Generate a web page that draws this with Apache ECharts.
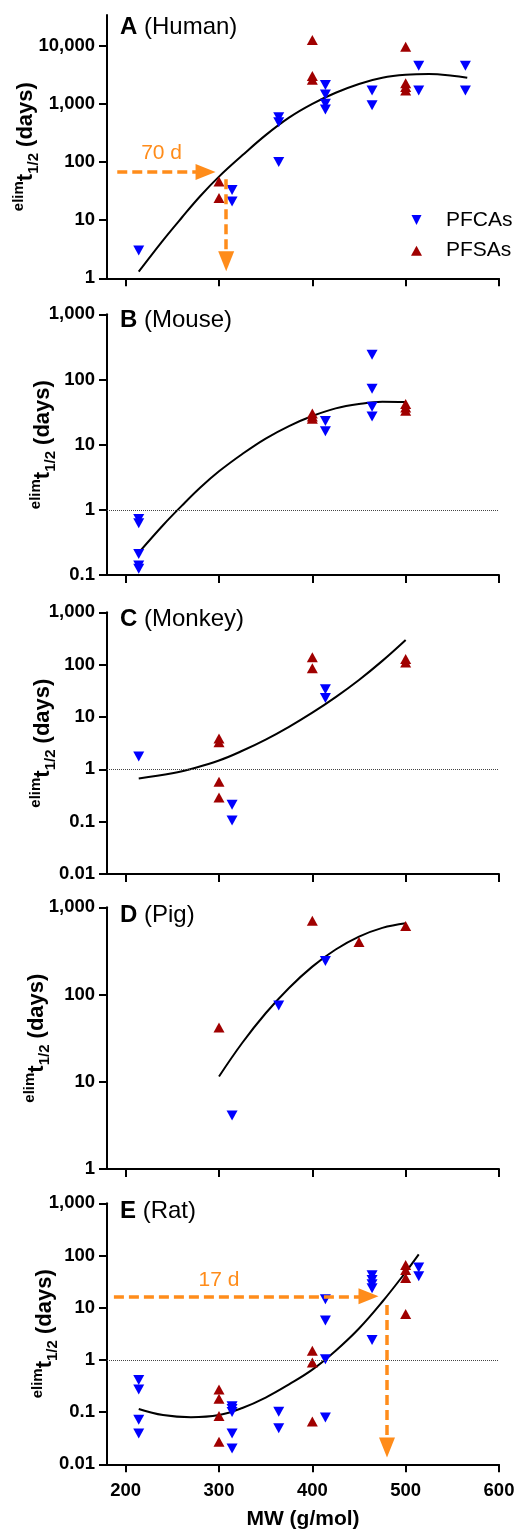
<!DOCTYPE html>
<html><head><meta charset="utf-8">
<script src="https://cdn.jsdelivr.net/npm/echarts@6/dist/echarts.min.js"></script>
<style>html,body{margin:0;padding:0;background:#fff}#c{width:517px;height:1529px}</style>
</head><body><div id="c"></div><script>
// ---------- data (MW g/mol, half-life days) ----------
const mwTicks = [200, 300, 400, 500, 600];
const yTicksA = [1, 10, 100, 1000, 10000];
const yTicksB = [0.1, 1, 10, 100, 1000];
const yTicksC = [0.01, 0.1, 1, 10, 100, 1000];
const yTicksD = [1, 10, 100, 1000];
const yTicksE = [0.01, 0.1, 1, 10, 100, 1000];

const humanPFCAs = [[214,3],[314,33],[314,21],[364,590],[364,480],[364,100],[414,2100],[414,1450],[414,1000],[414,800],[464,1700],[464,950],[514,4500],[514,1700],[564,4500],[564,1700]];
const humanPFSAs = [[300,46],[300,24],[400,12500],[400,3000],[400,2600],[500,9600],[500,2250],[500,1950],[500,1700]];
const humanFit = [[214,1.3],[240,4.5],[260,11],[280,26],[300,56],[325,130],[350,290],[375,580],[400,1000],[425,1550],[450,2200],[475,2800],[500,3150],[525,3250],[550,3050],[566,2800]];

const mousePFCAs = [[214,0.72],[214,0.62],[214,0.21],[214,0.14],[214,0.125],[414,23],[414,16],[464,240],[464,72],[464,38],[464,27]];
const mousePFSAs = [[400,30],[400,27],[400,25],[500,42],[500,37],[500,33]];
const mouseFit = [[214,0.22],[240,0.58],[260,1.15],[280,2.2],[300,3.9],[325,7.2],[350,12.4],[375,19.3],[400,27.5],[425,36],[450,42],[475,45.5],[500,45]];

const monkeyPFCAs = [[214,1.75],[314,0.21],[314,0.105],[414,34],[414,23]];
const monkeyPFSAs = [[300,3.9],[300,3.3],[300,0.58],[300,0.29],[400,138],[400,85],[500,128],[500,110]];
const monkeyFit = [[214,0.67],[250,0.84],[275,1.07],[300,1.47],[325,2.26],[350,3.7],[375,6.5],[400,12.1],[425,24],[450,51],[475,118],[500,296]];

const pigPFCAs = [[314,4.1],[364,75],[414,243]];
const pigPFSAs = [[300,42],[400,703],[450,401],[500,611]];
const pigFit = [[300,11.5],[325,28],[350,61],[375,119],[400,209],[425,328],[450,461],[475,581],[500,656]];

const ratPFCAs = [[214,0.41],[214,0.27],[214,0.071],[214,0.039],[314,0.13],[314,0.115],[314,0.1],[314,0.039],[314,0.02],[364,0.102],[364,0.049],[414,14.5],[414,5.7],[414,1.03],[414,0.079],[464,42],[464,34],[464,28],[464,23.5],[464,2.4],[514,59],[514,40]];
const ratPFSAs = [[300,0.27],[300,0.18],[300,0.084],[300,0.027],[400,1.5],[400,0.89],[400,0.066],[500,66],[500,53],[500,37],[500,7.6]];
const ratFit = [[214,0.115],[240,0.088],[270,0.08],[300,0.088],[325,0.12],[350,0.19],[375,0.34],[400,0.65],[425,1.5],[450,4.0],[475,13],[500,48],[514,105]];

// annotation arrows (MW, days)
const humanArrowH = [[191, 67], [285.6, 67]];
const humanArrowV = [[307.7, 50.5], [307.7, 1.97]];
const humanArrowText = ['70 d', 238.5, 140];
const ratArrowH = [[187.4, 16.5], [460.2, 16.5]];
const ratArrowV = [[480, 11.3], [480, 0.021]];
const ratArrowText = ['17 d', 300, 34];

// ---------- styling / layout ----------
const FONT = "'Liberation Sans', Arial, Helvetica, sans-serif";
const BLUE = '#0000FF', RED = '#A00000', ORANGE = '#FF8C1A';
const DOWN = 'path://M0,0L10,0L5,10Z';
const lg = v => Math.log10(v);
const pts = arr => arr.map(p => [p[0], lg(p[1])]);

const panels = [
  {key:'A', name:'(Human)', pfca:humanPFCAs, pfsa:humanPFSAs, fit:humanFit, ticks:yTicksA, min:1, max:33700, top:15, height:263.3, nameGap:66, titleTop:13.5, dotted:false},
  {key:'B', name:'(Mouse)', pfca:mousePFCAs, pfsa:mousePFSAs, fit:mouseFit, ticks:yTicksB, min:0.1, max:1000, top:314.3, height:260.7, nameGap:49, titleTop:306, dotted:true},
  {key:'C', name:'(Monkey)', pfca:monkeyPFCAs, pfsa:monkeyPFSAs, fit:monkeyFit, ticks:yTicksC, min:0.01, max:1000, top:612.3, height:261.7, nameGap:49, titleTop:605, dotted:true},
  {key:'D', name:'(Pig)', pfca:pigPFCAs, pfsa:pigPFSAs, fit:pigFit, ticks:yTicksD, min:1, max:1000, top:907.3, height:261.7, nameGap:55, titleTop:901, dotted:false},
  {key:'E', name:'(Rat)', pfca:ratPFCAs, pfsa:ratPFSAs, fit:ratFit, ticks:yTicksE, min:0.01, max:1000, top:1203.3, height:261, nameGap:47, titleTop:1197.7, dotted:true}
];

function fmt(v) {
  const r = Math.pow(10, v);
  if (r >= 1) return Math.round(r).toLocaleString('en-US');
  return String(Number(r.toPrecision(1)));
}

const axisLineStyle = {color:'#000', width:2};

function arrowPair(a) {
  return [
    {coord:[a[0][0], lg(a[0][1])], symbol:'none', lineStyle:{color:ORANGE, width:3.5, type:[10,5]}},
    {coord:[a[1][0], lg(a[1][1])], symbol:'triangle', symbolSize:[16,20], itemStyle:{color:ORANGE}}
  ];
}
function textPoint(t) {
  return {coord:[t[1], lg(t[2])], symbol:'rect', symbolSize:1, itemStyle:{color:'rgba(0,0,0,0)'},
    label:{show:true, position:'inside', formatter:t[0], color:ORANGE, fontSize:21, fontFamily:FONT}};
}

const series = [];
panels.forEach((p, i) => {
  const mlData = [];
  if (p.dotted) mlData.push({yAxis:0, lineStyle:{type:'dotted', color:'#444', width:1}});
  const mpData = [];
  if (i === 0) { mlData.push(arrowPair(humanArrowH)); mlData.push(arrowPair(humanArrowV)); mpData.push(textPoint(humanArrowText)); }
  if (i === 4) { mlData.push(arrowPair(ratArrowH)); mlData.push(arrowPair(ratArrowV)); mpData.push(textPoint(ratArrowText)); }
  series.push({
    type:'line', name:'fit'+p.key, xAxisIndex:i, yAxisIndex:i, data:pts(p.fit), smooth:0.4,
    showSymbol:false, symbol:'none', lineStyle:{color:'#000', width:2}, z:2, silent:true,
    markLine: mlData.length ? {silent:true, symbol:['none','none'], label:{show:false}, animation:false, z:5, data:mlData} : undefined,
    markPoint: mpData.length ? {silent:true, animation:false, z:6, data:mpData} : undefined
  });
  series.push({type:'scatter', name:'PFCAs', xAxisIndex:i, yAxisIndex:i, data:pts(p.pfca), symbol:DOWN, symbolSize:[11,10], itemStyle:{color:BLUE, opacity:1}, z:3});
  series.push({type:'scatter', name:'PFSAs', xAxisIndex:i, yAxisIndex:i, data:pts(p.pfsa), symbol:'triangle', symbolSize:[11,10], itemStyle:{color:RED, opacity:1}, z:3});
});

const option = {
  animation:false,
  backgroundColor:'#fff',
  title: panels.map(p => ({
    text:`{b|${p.key}}{r| ${p.name}}`, left:120, top:p.titleTop, padding:0,
    textStyle:{rich:{
      b:{fontSize:24, fontWeight:'bold', fontFamily:FONT, color:'#000', lineHeight:28},
      r:{fontSize:24, fontWeight:'normal', fontFamily:FONT, color:'#000', lineHeight:28}
    }}
  })),
  legend:{
    data:[{name:'PFCAs', icon:DOWN}, {name:'PFSAs', icon:'triangle'}],
    orient:'vertical', left:411, top:208, itemWidth:11, itemHeight:10, itemGap:6.7, padding:0,
    selectedMode:false,
    textStyle:{fontSize:21, fontFamily:FONT, color:'#000', lineHeight:24, padding:[0,0,0,19]}
  },
  grid: panels.map(p => ({left:107, width:392, top:p.top, height:p.height, containLabel:false, outerBoundsMode:'none'})),
  xAxis: panels.map((p, i) => ({
    gridIndex:i, type:'value', min:180, max:600,
    axisLine:{show:true, onZero:false, lineStyle:axisLineStyle},
    axisTick:{show:true, customValues:mwTicks, length:8, inside:false, lineStyle:axisLineStyle},
    axisLabel:{show:i === 4, customValues:mwTicks, fontSize:18.5, fontWeight:'bold', fontFamily:FONT, color:'#000', margin:17},
    splitLine:{show:false},
    name: i === 4 ? 'MW (g/mol)' : '', nameLocation:'middle', nameGap:43, nameMoveOverlap:false,
    nameTextStyle:{fontSize:21, fontWeight:'bold', fontFamily:FONT, color:'#000', lineHeight:24}
  })),
  yAxis: panels.map((p, i) => ({
    gridIndex:i, type:'value', min:lg(p.min), max:lg(p.max),
    axisLine:{show:true, onZero:false, lineStyle:axisLineStyle},
    axisTick:{show:true, customValues:p.ticks.map(lg), length:8, inside:false, lineStyle:axisLineStyle},
    axisLabel:{show:true, customValues:p.ticks.map(lg), formatter:fmt, fontSize:18.5, fontWeight:'bold', fontFamily:FONT, color:'#000', margin:12},
    splitLine:{show:false},
    name:'{sup|elim}{m|t}{sub|1/2}{m| (days)}', nameLocation:'middle', nameRotate:90, nameGap:p.nameGap, nameMoveOverlap:false,
    nameTextStyle:{color:'#000', rich:{
      sup:{fontSize:15, fontWeight:'bold', fontFamily:FONT, color:'#000', lineHeight:17, verticalAlign:'top'},
      m:{fontSize:22, fontWeight:'bold', fontFamily:FONT, color:'#000', lineHeight:30},
      sub:{fontSize:15, fontWeight:'bold', fontFamily:FONT, color:'#000', lineHeight:17, verticalAlign:'bottom'}
    }}
  })),
  series: series
};

const chart = echarts.init(document.getElementById('c'), null, {renderer:'canvas'});
chart.setOption(option);
</script></body></html>
